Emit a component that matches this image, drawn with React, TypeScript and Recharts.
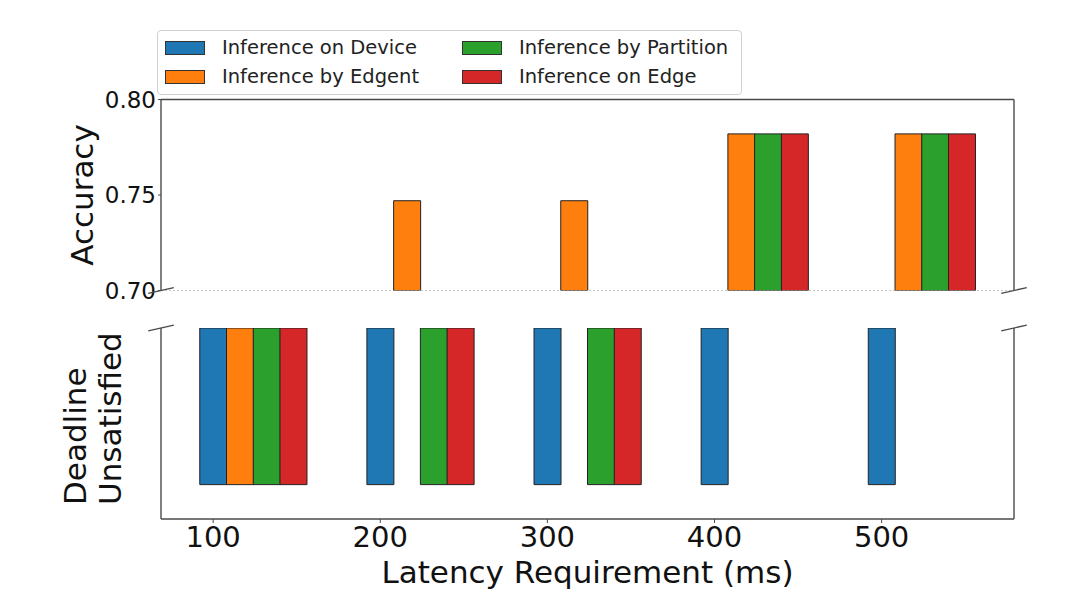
import React from 'react';
import { BarChart, Bar, XAxis, YAxis, CartesianGrid, Cell } from 'recharts';

// ---- data ----
const LATENCIES = [100, 200, 300, 400, 500];
const METHODS = ['Inference on Device', 'Inference by Edgent', 'Inference by Partition', 'Inference on Edge'];
const COLORS = ['#1f77b4', '#ff7f0e', '#2ca02c', '#d62728'];
const ACC_DEVICE: (number | null)[] = [null, null, null, null, null];
const ACC_EDGENT: (number | null)[] = [null, 0.747, 0.747, 0.782, 0.782];
const ACC_PARTITION: (number | null)[] = [null, null, null, 0.782, 0.782];
const ACC_EDGE: (number | null)[] = [null, null, null, 0.782, 0.782];
const BAR_WIDTH = 16; // in ms, bars offset within a group
const ACC_TICKS = [0.7, 0.75, 0.8];
const UNSAT_RANGE = [0.18, 1];
const X_DOMAIN = [68.8, 579.2];

const SERIES = [ACC_DEVICE, ACC_EDGENT, ACC_PARTITION, ACC_EDGE];

type Row = { x: number; value: number | number[]; color: string };
const topRows: Row[] = [];
const bottomRows: Row[] = [];
SERIES.forEach((s, i) => {
  LATENCIES.forEach((lat, j) => {
    const v = s[j];
    const x = lat + i * BAR_WIDTH;
    if (v != null) topRows.push({ x, value: v, color: COLORS[i] });
    else bottomRows.push({ x, value: UNSAT_RANGE, color: COLORS[i] });
  });
});
topRows.sort((a, b) => a.x - b.x);
bottomRows.sort((a, b) => a.x - b.x);

// ---- layout ----
const W = 1080;
const H = 602;
const PLOT_L = 161;
const PLOT_R = 1014;
const TOP_T = 99.5;
const TOP_B = 290.5;
const BOT_T = 328;
const BOT_B = 519;
const Y_AXIS_W = 60;
const R_AXIS_W = 1;
const X_AXIS_H = 40;
const FONT = '"DejaVu Sans", sans-serif';
const SPINE = '#4a4a4a';

const BreakMark = ({ x, y }: { x: number; y: number }) => {
  const dx = 0.015 * (PLOT_R - PLOT_L);
  const dy = 0.015 * (TOP_B - TOP_T);
  return <line x1={x - dx} y1={y + dy} x2={x + dx} y2={y - dy} stroke={SPINE} strokeWidth={1.4} />;
};

export default function App() {
  return (
    <div style={{ position: 'absolute', left: 0, top: 0, width: W, height: H, background: '#fff', fontFamily: FONT }}>
      {/* top panel: accuracy */}
      <div style={{ position: 'absolute', left: 0, top: 0 }}>
        <BarChart
          width={W}
          height={H}
          data={topRows}
          barCategoryGap={0}
          barGap={0}
          margin={{ top: TOP_T - 3, right: W - PLOT_R - R_AXIS_W, bottom: H - TOP_B, left: PLOT_L - Y_AXIS_W }}
        >
          <CartesianGrid horizontal vertical={false} stroke="#c8c8c8" strokeDasharray="2 2" />
          <XAxis
            dataKey="x"
            type="number"
            orientation="top"
            domain={X_DOMAIN}
            allowDataOverflow
            ticks={LATENCIES}
            interval={0}
            height={3}
            tick={false}
            tickSize={3}
            tickLine={{ stroke: SPINE }}
            axisLine={{ stroke: SPINE, strokeWidth: 1.4 }}
          />
          <YAxis
            yAxisId="l"
            type="number"
            domain={[0.7, 0.8]}
            allowDataOverflow
            ticks={ACC_TICKS}
            interval={0}
            width={Y_AXIS_W}
            tickFormatter={(v: number) => v.toFixed(2)}
            tick={{ fontSize: 23, fill: '#111', fontFamily: FONT }}
            tickSize={3}
            tickMargin={2}
            tickLine={{ stroke: SPINE }}
            axisLine={{ stroke: SPINE, strokeWidth: 1.4 }}
          />
          <YAxis
            yAxisId="r"
            orientation="right"
            type="number"
            domain={[0.7, 0.8]}
            width={R_AXIS_W}
            tick={false}
            tickLine={false}
            axisLine={{ stroke: SPINE, strokeWidth: 1.4 }}
          />
          <Bar yAxisId="l" dataKey="value" stroke="#222" strokeWidth={1} isAnimationActive={false}>
            {topRows.map((r, i) => (
              <Cell key={i} fill={r.color} />
            ))}
          </Bar>
        </BarChart>
      </div>

      {/* bottom panel: deadline unsatisfied */}
      <div style={{ position: 'absolute', left: 0, top: 0 }}>
        <BarChart
          width={W}
          height={H}
          data={bottomRows}
          barCategoryGap={0}
          barGap={0}
          margin={{ top: BOT_T, right: W - PLOT_R - R_AXIS_W, bottom: H - BOT_B - X_AXIS_H, left: PLOT_L - Y_AXIS_W }}
        >
          <XAxis
            dataKey="x"
            type="number"
            domain={X_DOMAIN}
            allowDataOverflow
            ticks={LATENCIES}
            interval={0}
            height={X_AXIS_H}
            tick={{ fontSize: 29, fill: '#111', fontFamily: FONT }}
            tickSize={4}
            tickMargin={3}
            tickLine={{ stroke: SPINE }}
            axisLine={{ stroke: SPINE, strokeWidth: 1.4 }}
          />
          <YAxis
            yAxisId="l"
            type="number"
            domain={[0, 1]}
            allowDataOverflow
            width={Y_AXIS_W}
            tick={false}
            tickLine={false}
            axisLine={{ stroke: SPINE, strokeWidth: 1.4 }}
          />
          <YAxis
            yAxisId="r"
            orientation="right"
            type="number"
            domain={[0, 1]}
            width={R_AXIS_W}
            tick={false}
            tickLine={false}
            axisLine={{ stroke: SPINE, strokeWidth: 1.4 }}
          />
          <Bar yAxisId="l" dataKey="value" stroke="#222" strokeWidth={1} isAnimationActive={false}>
            {bottomRows.map((r, i) => (
              <Cell key={i} fill={r.color} />
            ))}
          </Bar>
        </BarChart>
      </div>

      {/* titles and axis-break marks */}
      <svg width={W} height={H} style={{ position: 'absolute', left: 0, top: 0, pointerEvents: 'none' }}>
        <BreakMark x={PLOT_L} y={TOP_B} />
        <BreakMark x={PLOT_R} y={TOP_B} />
        <BreakMark x={PLOT_L} y={BOT_T} />
        <BreakMark x={PLOT_R} y={BOT_T} />
        <text transform="translate(93,195) rotate(-90)" textAnchor="middle" fontSize={31} fill="#111" fontFamily={FONT}>
          Accuracy
        </text>
        <text transform="translate(86,505) rotate(-90)" textAnchor="start" fontSize={31} fill="#111" fontFamily={FONT}>
          Deadline
        </text>
        <text transform="translate(121,505) rotate(-90)" textAnchor="start" fontSize={31} fill="#111" fontFamily={FONT}>
          Unsatisfied
        </text>
        <text x={(PLOT_L + PLOT_R) / 2} y={583} textAnchor="middle" fontSize={31} fill="#111" fontFamily={FONT}>
          Latency Requirement (ms)
        </text>
      </svg>

      {/* legend */}
      <div
        style={{
          position: 'absolute',
          left: 157,
          top: 30,
          width: 585,
          height: 65,
          boxSizing: 'border-box',
          border: '1px solid #d0d0d0',
          borderRadius: 4,
          background: 'rgba(255,255,255,0.9)',
          paddingTop: 2,
          paddingLeft: 7,
          display: 'grid',
          gridTemplateColumns: '297px 270px',
          gridTemplateRows: '29px 29px',
          gridAutoFlow: 'column',
        }}
      >
        {METHODS.map((m, i) => (
          <div key={m} style={{ display: 'flex', alignItems: 'center', height: 29 }}>
            <div
              style={{
                width: 40,
                height: 14,
                boxSizing: 'border-box',
                border: '1px solid #333',
                background: COLORS[i],
                marginRight: 17,
              }}
            />
            <span style={{ fontSize: 19.5, color: '#222', fontFamily: FONT, whiteSpace: 'nowrap' }}>{m}</span>
          </div>
        ))}
      </div>
    </div>
  );
}
